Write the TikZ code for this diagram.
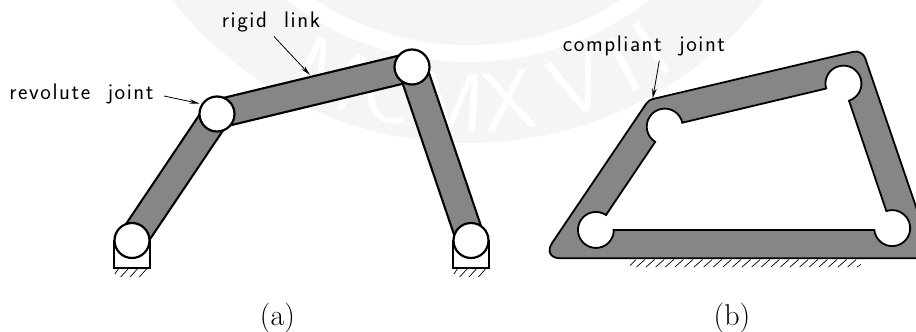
\documentclass[tikz,border=0pt]{standalone}
\usepackage{tikz}
\usepackage{fontspec}
\usetikzlibrary{arrows.meta, calc}
\newfontfamily\lblfont[LetterSpace=7]{Latin Modern Sans}
\definecolor{linkgray}{HTML}{868686}
\definecolor{sealgray}{HTML}{F5F5F5}
\tikzset{
	joint/.style={circle, draw=black, line width=2.2pt, fill=white, minimum size=35pt, inner sep=0pt},
	link/.style={draw=black, line width=2.2pt, double=linkgray, double distance=26pt},
	lbl/.style={font=\fontsize{22.5}{25}\selectfont\lblfont, inner sep=0pt},
	figlabel/.style={font=\fontsize{30}{32}\selectfont, inner sep=0pt},
	lead/.style={-{Stealth[length=10pt, width=4.5pt]}, line width=0.8pt},
	hatch/.style={line width=0.7pt},
	frame/.style={line width=1.8pt},
	outline/.style={line width=1.8pt},
	sealletter/.style={font=\fontsize{84}{84}\selectfont\sffamily, text=white, inner sep=0pt}
}
\begin{document}
\begin{tikzpicture}[x=1pt, y=-1pt]
	\useasboundingbox (0,0) rectangle (916,332);
	\clip (0,0) rectangle (916,332);
	
	% Seal behind the figure
	\coordinate (seal) at (468,-235);
	\fill[sealgray] (seal) circle (378);
	\fill[white] (seal) circle (297);
	\fill[sealgray] (seal) circle (280);
	\foreach \Letter/\Ang [count=\Idx] in {M/24,C/13.5,M/3,X/-7,V/-19,I/-27.5,I/-33} {
		\node[sealletter, rotate=-\Ang] (letter\Idx) at ($(seal)+(90+\Ang:338)$) {\Letter};
	}
	
	% Mechanism (a)
	\coordinate (A) at (132,240.5);
	\coordinate (B) at (217,114);
	\coordinate (C) at (412,67);
	\coordinate (D) at (471,240.5);
	
	\draw[link] (A) -- (B);
	\draw[link] (B) -- (C);
	\draw[link] (C) -- (D);
	
	% Bases
	\foreach \BaseX in {132,471} {
		\draw[frame] (\BaseX-18,240) -- (\BaseX-18,268) -- (\BaseX+18,268) -- (\BaseX+18,240);
		\draw[hatch] (\BaseX-17,274) -- (\BaseX-13.7,269);
		\foreach \Shift in {-11.3,-2,7.3} {
			\draw[hatch] (\BaseX+\Shift,277) -- (\BaseX+\Shift+7.3,269);
		}
	}
	
	\node[joint] (jointA) at (A) {};
	\node[joint] (jointB) at (B) {};
	\node[joint] (jointC) at (C) {};
	\node[joint] (jointD) at (D) {};
	
	\node[lbl] (rigid) at (271,22) {rigid\ \ link};
	\node[lbl] (revolute) at (81.5,93.5) {revolute\ \ joint};
	\coordinate (rigidEnd) at (310,75);
	\coordinate (rigidStart) at (274,36.5);
	\draw[lead] (rigidStart) -- (rigidEnd);
	\coordinate (revoluteEnd) at (199.5,103.5);
	\coordinate (revoluteStart) at (164,96);
	\draw[lead] (revoluteStart) -- (revoluteEnd);
	
	\node[figlabel] (capA) at (277.5,318) {(a)};
	
	% Mechanism (b)
	\draw[outline, fill=linkgray] (700,258.3) [rounded corners=19pt] -- (541.7,258.3) [rounded corners=4pt] -- (648.7,100) [rounded corners=9pt] -- (862.3,49.7) -- (933.6,258.3) -- cycle;
	\draw[outline, fill=white]
		(612.7,230) -- (874.3,230)
		arc[start angle=174, end angle=-109, radius=18] -- (849,100.7)
		arc[start angle=72, end angle=-196, radius=18] -- (682.3,122.7)
		arc[start angle=-12.5, end angle=-238, radius=18] -- (606,215)
		arc[start angle=-56, end angle=-360, radius=18] -- cycle;
	
	% Ground
	\draw[hatch] (630,265.5) -- (636,259.5);
	\foreach \HatchX in {636.5,646.1,...,850} {
		\draw[hatch] (\HatchX,267) -- (\HatchX+8.5,259.5);
	}
	\draw[hatch] (857.3,267) -- (860.7,264.5);
	
	\node[lbl] (compliant) at (644,46) {compliant\ \ joint};
	\coordinate (compliantStart) at (659.3,60.7);
	\coordinate (compliantEnd) at (652.7,98.5);
	\draw[lead] (compliantStart) -- (compliantEnd);
	
	\node[figlabel] (capB) at (732,318) {(b)};
\end{tikzpicture}
\end{document}
